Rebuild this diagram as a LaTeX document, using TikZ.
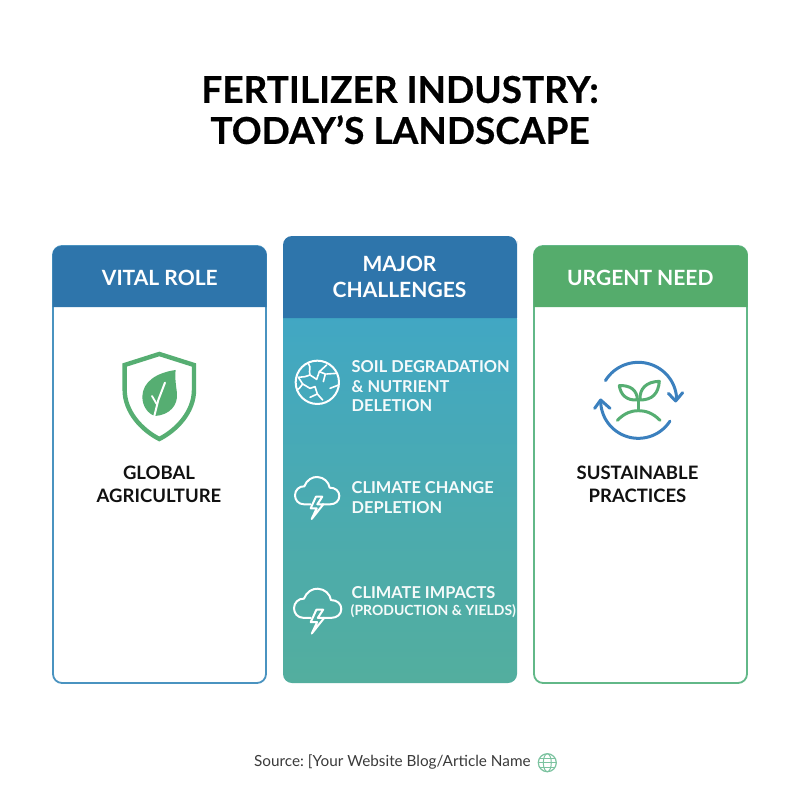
\documentclass[tikz,border=0pt]{standalone}
\usepackage{fontspec}
\setmainfont{Lato}
\newfontfamily\heavyfont[BoldFeatures={FakeBold=0.5}]{Lato}
\definecolor{hblue}{HTML}{2E75AB}
\definecolor{bblue}{HTML}{4A93C0}
\definecolor{hgreen}{HTML}{55AC6C}
\definecolor{bgreen}{HTML}{62B888}
\definecolor{leaf}{HTML}{56AE72}
\definecolor{cyc}{HTML}{3B80BE}
\definecolor{gtop}{HTML}{41A7C4}
\definecolor{gbot}{HTML}{53AE9E}
\definecolor{ink}{HTML}{111111}
\definecolor{srcink}{HTML}{3A3A3A}
\definecolor{globe}{HTML}{7CC3A0}
\tikzset{
  titletext/.style={font=\heavyfont\fontsize{37}{41}\selectfont\bfseries,text=black,align=center},
  headtext/.style={font=\fontsize{21}{25.5}\selectfont\bfseries,text=white,align=center},
  bodytext/.style={font=\fontsize{18.5}{22.5}\selectfont\bfseries,text=ink,align=center},
  itemtext/.style={font=\fontsize{16.4}{20}\selectfont\bfseries,text=white,align=left,anchor=west,inner sep=0pt,opacity=.95},
  smallitem/.style={font=\fontsize{14}{20}\selectfont\bfseries,text=white,anchor=west,inner sep=0pt,opacity=.95},
  sourcetext/.style={font=\frenchspacing\fontsize{15.3}{18}\selectfont,text=srcink,inner sep=0pt},
  iconline/.style={draw=white,line width=2pt,line cap=round,line join=round},
  crack/.style={iconline,line width=1.6pt},
  cycline/.style={line width=3pt,line cap=round,line join=round},
  zoomA/.style={x=0.3333pt,y=-0.3333pt}
}
\newcommand{\cloudicon}{%
  \draw[iconline] (92,553) -- (72,553) .. controls (55,553) and (45,540) .. (45,526)
    .. controls (45,510) and (58,498) .. (73,499)
    .. controls (80,480) and (97,470) .. (112,471)
    .. controls (132,472) and (146,486) .. (149,503)
    .. controls (166,503) and (178,513) .. (178,528)
    .. controls (178,543) and (166,553) .. (150,553) -- (128,553);
  \draw[iconline] (108,530) -- (92,565) -- (110,565) -- (95,597) -- (130,553) -- (112,553) -- (127,530) -- cycle;
}
\begin{document}
\begin{tikzpicture}[x=1pt,y=-1pt]
\useasboundingbox (0,0) rectangle (800,800);
\fill[white] (0,0) rectangle (800,800);

\node[titletext] (title) at (400,110) {FERTILIZER INDUSTRY:\\TODAY’S LANDSCAPE};

% left card
\draw[bblue,line width=1.8pt,rounded corners=9pt,fill=white] (53,246) rectangle (266,683);
\fill[hblue] (52.5,307) [rounded corners=9pt] -- (52.5,246) -- (266.5,246) -- (266.5,260) [sharp corners] -- (266.5,307) -- cycle;
\node[headtext] (vital) at (159.8,278) {VITAL ROLE};
\node[bodytext] (global) at (159,484.5) {GLOBAL\\AGRICULTURE};

% shield
\begin{scope}[shift={(40,230)},zoomA]
  \draw[leaf,line width=4.4pt,line join=miter] (358,372) -- (254,405) -- (254,480)
    .. controls (254,545) and (305,600) .. (358,627)
    .. controls (411,600) and (462,545) .. (462,480) -- (462,405) -- cycle;
  \fill[leaf] (407,420) .. controls (350,428) and (308,455) .. (307,500)
    .. controls (307,530) and (325,552) .. (345,558)
    .. controls (390,555) and (414,525) .. (411,490)
    .. controls (408,465) and (404,445) .. (407,420) -- cycle;
  \draw[white,line width=2pt,line cap=round] (375,458) -- (355,510) -- (338,578);
  \draw[white,line width=1.8pt,line cap=round] (336,498) -- (350,522);
\end{scope}

% middle card
\path[top color=gtop,bottom color=gbot,rounded corners=9pt] (283,310) rectangle (517,683);
\fill[hblue] (283,318) [rounded corners=9pt] -- (283,236) -- (517,236) -- (517,250) [sharp corners] -- (517,318) -- cycle;
\node[headtext] (major) at (399.5,277) {MAJOR\\CHALLENGES};

% globe icon
\begin{scope}[shift={(280,320)},zoomA]
  \draw[iconline] (112,187) circle[radius=65];
  \draw[crack] (85,130) .. controls (95,145) and (85,150) .. (90,165) -- (75,170) -- (55,172) -- (68,192) -- (58,205) -- (50,210);
  \draw[crack] (90,165) -- (110,178) -- (118,155) -- (140,135);
  \draw[crack] (118,155) -- (136,162) -- (130,185);
  \draw[crack] (150,205) -- (176,195);
  \draw[crack] (140,162) -- (170,160);
  \draw[crack] (68,192) -- (90,205) -- (105,200) -- (112,222) -- (128,240);
  \draw[crack] (112,222) -- (90,232);
\end{scope}
\node[itemtext] (soil) at (351.5,386.5) {SOIL DEGRADATION\\[-.5pt]\&~NUTRIENT\\[-.5pt]DELETION};

\begin{scope}[shift={(280,320)},zoomA]
  \cloudicon
\end{scope}
\node[itemtext] (change) at (351.5,497.5) {CLIMATE CHANGE\\DEPLETION};

\begin{scope}[shift={(278,421.2)},x=0.3556pt,y=-0.3556pt]
  \cloudicon
\end{scope}
\node[itemtext] (impacts) at (351.5,592.5) {CLIMATE IMPACTS};
\node[smallitem] (yields) at (350.5,611.5) {(PRODUCTION \& YIELDS)};

% right card
\draw[bgreen,line width=1.8pt,rounded corners=9pt,fill=white] (534,246) rectangle (747,683);
\fill[hgreen] (533.5,307) [rounded corners=9pt] -- (533.5,246) -- (747.5,246) -- (747.5,260) [sharp corners] -- (747.5,307) -- cycle;
\node[headtext] (urgent) at (640.3,278) {URGENT NEED};
\node[bodytext] (sust) at (637.5,484.5) {SUSTAINABLE\\PRACTICES};

% cycle icon
\begin{scope}[shift={(530,340)},zoomA]
  \draw[cyc,cycline] plot[domain=211:358,samples=40] ({325+115*cos(\x)},{180+113*sin(\x)});
  \draw[cyc,cycline] (415,160) -- (437,183) -- (458,158);
  \draw[cyc,cycline] plot[domain=33:177,samples=40] ({325+113*cos(\x)},{182+113*sin(\x)});
  \draw[cyc,cycline] (194,205) -- (212,180) -- (240,205);
  \draw[leaf,cycline] (262,241) .. controls (285,218) and (305,212) .. (325,212) .. controls (345,212) and (368,218) .. (390,241);
  \draw[leaf,cycline] (325,212) -- (325,178);
  \draw[leaf,cycline] (322,180) .. controls (290,182) and (272,165) .. (268,137) .. controls (300,135) and (322,150) .. (322,180) -- cycle;
  \draw[leaf,cycline] (330,180) .. controls (368,180) and (385,160) .. (388,124) .. controls (350,125) and (328,145) .. (330,180) -- cycle;
\end{scope}

% source
\node[sourcetext,anchor=west] (source) at (254,762) {Source: [Your Website Blog/Article Name};
\begin{scope}[shift={(547.3,762.7)}]
  \draw[globe,line width=1.2pt] (0,0) circle[radius=9];
  \draw[globe,line width=1pt] (0,0) ellipse[x radius=4,y radius=9];
  \draw[globe,line width=1pt] (-9,0) -- (9,0) (-8,-4.5) -- (8,-4.5) (-8,4.5) -- (8,4.5);
\end{scope}
\end{tikzpicture}
\end{document}
